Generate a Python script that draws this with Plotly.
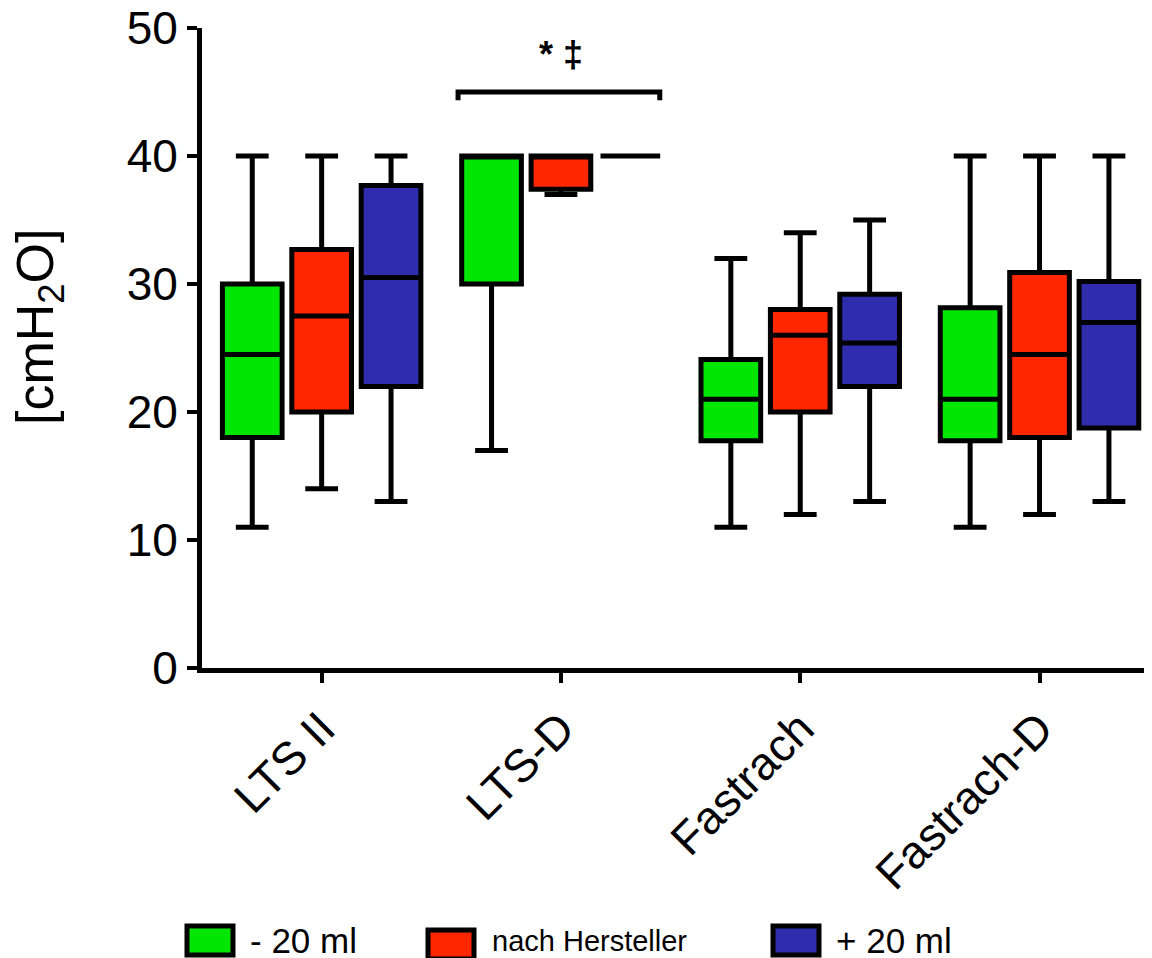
import plotly.graph_objects as go

categories = ["LTS II", "LTS-D", "Fastrach", "Fastrach-D"]
series_names = ["- 20 ml", "nach Hersteller", "+ 20 ml"]
colors = ["#00E600", "#FF2600", "#302CAE"]

# five-number summaries per series (min, q1, median, q3, max)
minus20_min = [11, 17, 11, 11]
minus20_q1 = [18, 30, 17.75, 17.75]
minus20_med = [24.5, 40, 21, 21]
minus20_q3 = [30, 40, 24.1, 28.15]
minus20_max = [40, 40, 32, 40]

hersteller_min = [14, 37, 12, 12]
hersteller_q1 = [20, 37.4, 20, 18]
hersteller_med = [27.5, 40, 26, 24.5]
hersteller_q3 = [32.7, 40, 28, 30.9]
hersteller_max = [40, 40, 34, 40]

plus20_min = [13, 40, 13, 13]
plus20_q1 = [22, 40, 22, 18.75]
plus20_med = [30.5, 40, 25.4, 27]
plus20_q3 = [37.7, 40, 29.2, 30.2]
plus20_max = [40, 40, 35, 40]

stats = [
    (minus20_min, minus20_q1, minus20_med, minus20_q3, minus20_max),
    (hersteller_min, hersteller_q1, hersteller_med, hersteller_q3, hersteller_max),
    (plus20_min, plus20_q1, plus20_med, plus20_q3, plus20_max),
]

font_family = "Liberation Sans, Arial, sans-serif"
OFF = 8  # page body margin
W, H = 1152 - OFF, 958 - OFF

fig = go.Figure()
for name, col, (mn, q1, md, q3, mx) in zip(series_names, colors, stats):
    fig.add_trace(go.Box(
        name=name,
        x=categories,
        lowerfence=mn, q1=q1, median=md, q3=q3, upperfence=mx,
        fillcolor=col,
        line=dict(color="black", width=5),
        whiskerwidth=0.55,
        boxpoints=False,
        showlegend=False,
        hoverinfo="skip",
    ))

# significance bracket over LTS-D
shapes = [
    dict(type="path", xref="x", yref="y",
         path="M 0.57 44.35 L 0.57 45 L 1.413 45 L 1.413 44.35",
         line=dict(color="black", width=5)),
]
annotations = [
    dict(x=1, y=47.9, xref="x", yref="y", text="<b>* ‡</b>", showarrow=False,
         font=dict(family=font_family, size=36, color="black")),
]

# page pixel positions converted to paper coordinates
plot_l, plot_r, plot_t, plot_b = 202, 1152, 28, 668

def px2paper_x(px):
    return (px - plot_l) / (plot_r - plot_l)

def px2paper_y(py):
    return (plot_b - py) / (plot_b - plot_t)

# y axis title
annotations.append(dict(xref="paper", yref="paper", x=px2paper_x(39), y=px2paper_y(327),
                        xanchor="center", yanchor="middle", textangle=-90,
                        text="[cmH<sub>2</sub>O]", showarrow=False,
                        font=dict(family=font_family, size=52, color="black")))

# manual legend
legend_sq_x = [187, 428, 773]
legend_sq_top = [926, 930, 926]
legend_txt_x = [248, 490, 834]
legend_txt_cy = [940, 941, 940]
legend_sizes = [35, 29, 35]
sq_w, sq_h = 46, 29

for name, col, sx, st, tx, ty, fs in zip(series_names, colors, legend_sq_x, legend_sq_top,
                                         legend_txt_x, legend_txt_cy, legend_sizes):
    shapes.append(dict(type="rect", xref="paper", yref="paper",
                       x0=px2paper_x(sx), x1=px2paper_x(sx + sq_w),
                       y0=px2paper_y(st + sq_h), y1=px2paper_y(st),
                       fillcolor=col, line=dict(color="black", width=5)))
    annotations.append(dict(xref="paper", yref="paper", x=px2paper_x(tx),
                            y=px2paper_y(ty), xanchor="left", yanchor="middle",
                            text=name, showarrow=False,
                            font=dict(family=font_family, size=fs, color="black")))

fig.update_layout(
    width=W, height=H,
    margin=dict(l=plot_l - OFF, r=1152 - plot_r, t=plot_t - OFF, b=958 - plot_b),
    paper_bgcolor="white", plot_bgcolor="white",
    boxmode="group", boxgap=0.13, boxgroupgap=0.14,
    font=dict(family=font_family, color="black"),
    shapes=shapes, annotations=annotations,
    showlegend=False,
)
fig.update_xaxes(
    type="category", range=[-0.5, 3.47], automargin=False,
    showline=True, linecolor="black", linewidth=5,
    ticks="outside", ticklen=10, tickwidth=4, tickcolor="black",
    tickangle=-45, tickfont=dict(size=46, family=font_family),
    showgrid=False, zeroline=False, ticklabeloverflow="allow",
)
fig.update_yaxes(
    range=[0, 50], dtick=10, automargin=False,
    showline=True, linecolor="black", linewidth=5,
    ticks="outside", ticklen=10, tickwidth=4, tickcolor="black",
    tickfont=dict(size=46, family=font_family),
    showgrid=False, zeroline=False, ticklabeloverflow="allow",
)

fig.write_html("out.html")
